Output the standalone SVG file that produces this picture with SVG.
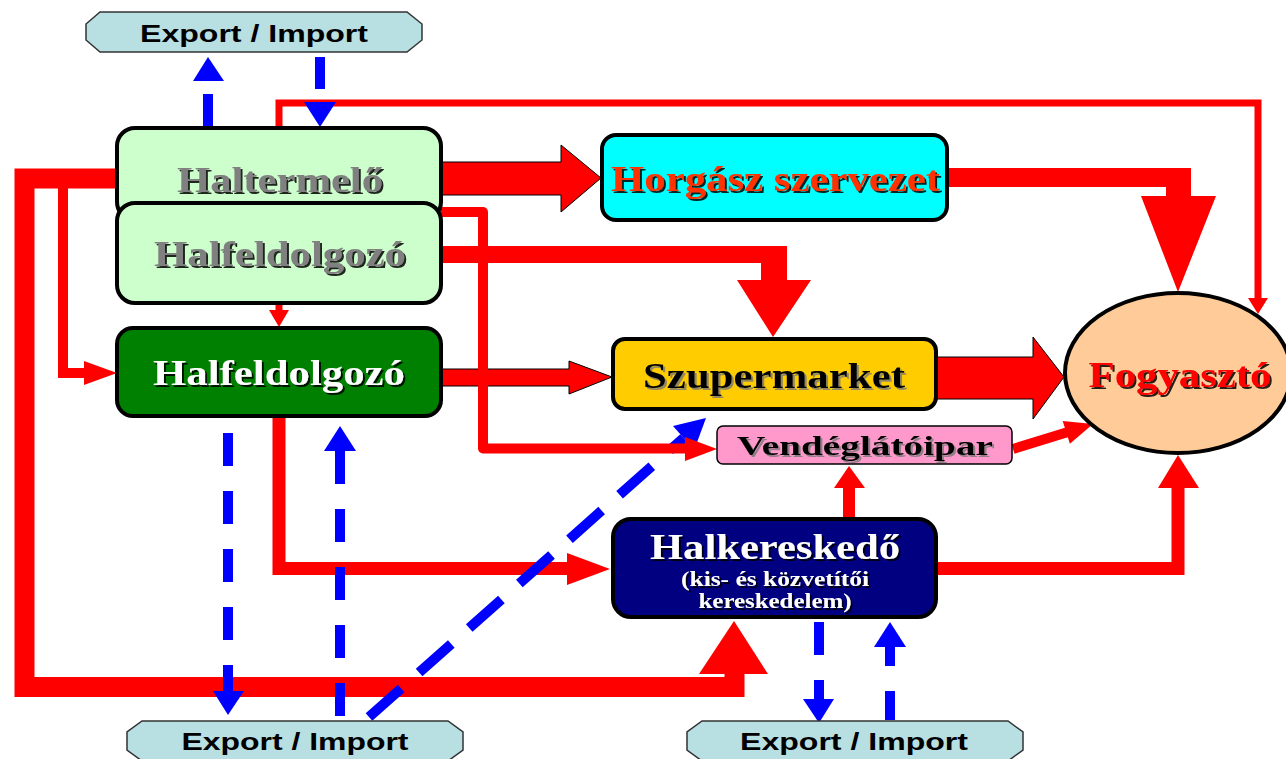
<svg xmlns="http://www.w3.org/2000/svg" width="1286" height="759" viewBox="0 0 1286 759">
<defs>
<style>
.box{stroke:#000;stroke-width:4}
.ex{fill:#B8DFE2;stroke:#333;stroke-width:1.5}
.ext{font-family:"Liberation Sans",Arial,sans-serif;font-weight:bold;font-size:24px;fill:#000;text-anchor:middle}
.t{font-family:"Liberation Serif","Times New Roman",serif;font-weight:bold;text-anchor:middle}
.red{fill:#FF0000}
.redo{fill:#FF0000;stroke:#000;stroke-width:1}
.rl{fill:none;stroke:#FF0000}
.bl{fill:none;stroke:#0000FF;stroke-width:10}
.bh{fill:#0000FF}
</style>
<filter id="sd" x="-5%" y="-20%" width="115%" height="150%"><feDropShadow dx="2" dy="2" stdDeviation="0.4" flood-color="#000" flood-opacity="0.85"/></filter>
<filter id="sg" x="-5%" y="-20%" width="115%" height="150%"><feDropShadow dx="2" dy="2" stdDeviation="0.4" flood-color="#777" flood-opacity="0.8"/></filter>
</defs>
<rect width="1286" height="759" fill="#fff"/>
<g id="connectors">
<polygon class="redo" points="441,162 561,162 561,145 601,178 561,212 561,195 441,195"/>
<polygon class="red" points="947,168 1191,168 1191,196 1216,196 1178,292 1141,196 1166,196 1166,187 947,187"/>
<path class="rl" stroke-width="7" d="M279,128 V103 H1258 V300"/>
<polygon class="red" points="1248,298 1268,298 1258,314"/>
<polygon class="red" points="441,246 787,246 787,280 811,280 773,337 737,280 761,280 761,263 441,263"/>
<path class="rl" stroke-width="7" d="M279,303 V312"/>
<polygon class="red" points="269,310 289,310 279,327"/>
<path class="rl" stroke-width="20" d="M117,178.5 H24.5 V687 H734.5 V672"/>
<polygon class="red" points="699,674 768,674 734,621"/>
<path class="rl" stroke-width="10" d="M63,188 V373 H86"/>
<polygon class="red" points="84,361 117,373 84,385"/>
<polygon class="redo" points="441,369 569,369 569,361 612,377 569,394 569,386 441,386"/>
<path class="rl" stroke-width="13" d="M279,416 V568.5 H568"/>
<polygon class="red" points="567,553 610,569 567,585"/>
<path class="rl" stroke-width="12" d="M849,519 V487"/>
<polygon class="red" points="834,488 865,488 849,466"/>
<path class="rl" stroke-width="13" d="M937,568.5 H1178 V487"/>
<polygon class="red" points="1158,488 1199,488 1178,455"/>
<path class="rl" stroke-width="10" d="M1013,449 L1068,432"/>
<polygon class="red" points="1093,424 1069.9,443.8 1062.7,420.9"/>
<polygon class="redo" points="936,357 1033,357 1033,337 1064,377 1033,419 1033,399 936,399"/>
<path class="bl" d="M208,128 V94"/>
<polygon class="bh" points="193,81 224,81 208,57"/>
<path class="bl" stroke-width="11" d="M320,57 V89"/>
<polygon class="bh" points="304,102 336,102 320,127"/>
<path class="bl" stroke-dasharray="33 25" d="M228,433 V692"/>
<polygon class="bh" points="213,691 244,691 228,715"/>
<path class="bl" stroke-dasharray="33 25" d="M340,716 V450"/>
<polygon class="bh" points="324,451 356,451 340,426"/>
<path class="bl" stroke-dasharray="43 24" d="M369,717 L683.6,437.9"/>
<polygon class="bh" points="706,418 694.2,449.9 673,426"/>
<path class="bl" stroke-width="11" stroke-dasharray="33 25" d="M819,622 V699"/>
<polygon class="bh" points="803,699 834,699 819,723"/>
<path class="bl" stroke-width="11" stroke-dasharray="29 25" d="M890,720 V647"/>
<polygon class="bh" points="874,647 906,647 890,622"/>
<path class="rl" stroke-width="10" stroke-linejoin="round" d="M441,212 H483 V448.5 H688"/>
<polygon class="red" points="685,437 717,449 685,461"/>
</g>
<g id="export-top">
<polygon class="ex" points="100,12 407,12 422,24 422,40 407,52 100,52 86,40 86,24"/>
<text class="ext" x="254" y="42" textLength="228" lengthAdjust="spacingAndGlyphs">Export / Import</text>
</g>
<g id="export-bottom-left">
<polygon class="ex" points="142,721 448,721 463,732 463,750 448,761 142,761 127,750 127,732"/>
<text class="ext" x="295" y="750" textLength="227" lengthAdjust="spacingAndGlyphs">Export / Import</text>
</g>
<g id="export-bottom-right">
<polygon class="ex" points="702,721 1008,721 1023,732 1023,750 1008,761 702,761 687,750 687,732"/>
<text class="ext" x="854" y="750" textLength="228" lengthAdjust="spacingAndGlyphs">Export / Import</text>
</g>
<g id="haltermelo">
<rect class="box" x="117" y="128" width="324" height="92" rx="18" fill="#CCFFCC"/>
<text class="t" x="280" y="192" font-size="36" fill="#808080" filter="url(#sd)" textLength="206" lengthAdjust="spacingAndGlyphs">Haltermelő</text>
</g>
<g id="halfeldolgozo-light">
<rect class="box" x="117" y="203" width="324" height="100" rx="18" fill="#CCFFCC"/>
<text class="t" x="280" y="266" font-size="36" fill="#808080" filter="url(#sd)" textLength="252" lengthAdjust="spacingAndGlyphs">Halfeldolgozó</text>
</g>
<g id="halfeldolgozo-green">
<rect class="box" x="117" y="328" width="324" height="88" rx="16" fill="#008000"/>
<text class="t" x="279" y="385" font-size="35" fill="#fff" filter="url(#sd)" textLength="252" lengthAdjust="spacingAndGlyphs">Halfeldolgozó</text>
</g>
<g id="horgasz">
<rect class="box" x="602" y="135" width="345" height="85" rx="14" fill="#00FFFF"/>
<text class="t" x="775.5" y="191" font-size="35" fill="#FF3300" filter="url(#sd)" textLength="329" lengthAdjust="spacingAndGlyphs">Horgász szervezet</text>
</g>
<g id="szupermarket">
<rect class="box" x="613" y="339" width="323" height="70" rx="12" fill="#FFCC00"/>
<text class="t" x="774" y="388" font-size="36" fill="#000" filter="url(#sg)" textLength="262" lengthAdjust="spacingAndGlyphs">Szupermarket</text>
</g>
<g id="vendeglatoipar">
<rect x="717" y="426" width="295" height="38" rx="6" fill="#FF99CC" stroke="#000" stroke-width="1.5"/>
<text class="t" x="865" y="455" font-size="28" fill="#000" filter="url(#sg)" textLength="256" lengthAdjust="spacingAndGlyphs">Vendéglátóipar</text>
</g>
<g id="halkereskedo">
<rect class="box" x="613" y="519" width="323" height="98" rx="18" fill="#000080"/>
<text class="t" x="775" y="559" font-size="35" fill="#fff" filter="url(#sd)" textLength="250" lengthAdjust="spacingAndGlyphs">Halkereskedő</text>
<text class="t" x="775" y="586" font-size="20" fill="#fff" filter="url(#sd)" textLength="188" lengthAdjust="spacingAndGlyphs">(kis- és közvetítői</text>
<text class="t" x="775" y="608" font-size="20" fill="#fff" filter="url(#sd)" textLength="153" lengthAdjust="spacingAndGlyphs">kereskedelem)</text>
</g>
<g id="fogyaszto">
<ellipse cx="1178" cy="373" rx="113" ry="80" fill="#FFCC99" stroke="#000" stroke-width="4"/>
<text class="t" x="1180" y="387" font-size="35" fill="#FF0000" filter="url(#sd)" textLength="183" lengthAdjust="spacingAndGlyphs">Fogyasztó</text>
</g>
</svg>
